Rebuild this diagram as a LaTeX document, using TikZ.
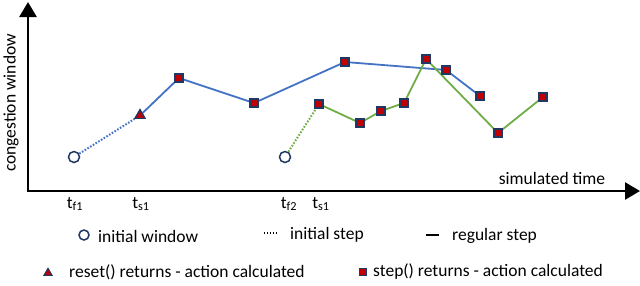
\documentclass[tikz,border=0pt]{standalone}
\usepackage{fontspec}
\setmainfont{Carlito}
\usetikzlibrary{shapes.geometric,arrows.meta}
\definecolor{cblue}{HTML}{4472C4}
\definecolor{cgreen}{HTML}{70AD47}
\definecolor{cred}{HTML}{C00000}
\definecolor{cnavy}{HTML}{1F3864}
\begin{document}
\begin{tikzpicture}[x=1pt,y=-1pt,
  txt/.style={font=\fontsize{17.5}{19}\selectfont, inner sep=0pt},
  axis/.style={line width=2.6pt, -{Triangle[length=15pt,width=17pt]}},
  sq/.style={rectangle, draw=cnavy, fill=cred, line width=1.3pt, minimum size=8pt, inner sep=0pt},
  sqs/.style={rectangle, draw=cnavy, fill=cred, line width=1pt, minimum size=6.5pt, inner sep=0pt},
  tri/.style={regular polygon, regular polygon sides=3, draw=cnavy, fill=cred, line width=1.2pt, minimum size=11.5pt, inner sep=0pt},
  tris/.style={regular polygon, regular polygon sides=3, draw=cnavy, fill=cred, line width=1pt, minimum size=9.5pt, inner sep=0pt},
  circ/.style={circle, draw=cnavy, fill=white, line width=1.5pt, minimum size=11pt, inner sep=0pt},
  regb/.style={cblue, line width=1.8pt},
  regg/.style={cgreen, line width=1.8pt},
  initdot/.style={line width=2pt, dash pattern=on 1.6pt off 1.6pt},
]
\useasboundingbox (0,0) rectangle (640,285);
% axes
\coordinate (o) at (28,191);
\coordinate (ytop) at (28,2);
\coordinate (xend) at (640,191);
\draw[axis] (o) -- (ytop);
\draw[axis] ([xshift=-1.3pt]o) -- (xend);
\node[txt, rotate=90] (ylab) at (11,103) {congestion window};
\node[txt] (xlab) at (552,178) {simulated time};
% ticks labels
\node[txt] (tf1) at (75,204) {t\textsubscript{f1}};
\node[txt] (ts1) at (141,204) {t\textsubscript{s1}};
\node[txt] (tf2) at (289,204) {t\textsubscript{f2}};
\node[txt] (ts1b) at (321,204) {t\textsubscript{s1}};
% blue series nodes
\node[circ] (b0) at (74,157) {};
\node[tri] (b1) at (140,115.5) {};
\node[sq] (b2) at (179,78) {};
\node[sq] (b3) at (254,103) {};
\node[sq] (b4) at (345,62) {};
\node[sq] (b5) at (446,70) {};
\node[sq] (b6) at (480,96) {};
% green series nodes
\node[circ] (g0) at (285,157) {};
\node[sq] (g1) at (319,104) {};
\node[sq] (g2) at (360,123) {};
\node[sq] (g3) at (381,111) {};
\node[sq] (g4) at (404,103) {};
\node[sq] (g5) at (426,59) {};
\node[sq] (g6) at (498,133) {};
\node[sq] (g7) at (543,97) {};
% lines
\draw[cblue, initdot] (b0) -- (b1);
\draw[regb] (b1) -- (b2) -- (b3) -- (b4) -- (b5) -- (b6);
\draw[cgreen, initdot] (g0) -- (g1);
\draw[regg] (g1) -- (g2) -- (g3) -- (g4) -- (g5) -- (g6) -- (g7);
% redraw markers on top
\foreach \n in {b2,b3,b4,b5,b6,g1,g2,g3,g4,g5,g6,g7}{\node[sq] at (\n) {};}
\node[tri] at (b1) {};
% legend
\node[circ, minimum size=10pt] (lc) at (84,235) {};
\node[txt, anchor=west] (lct) at (98,236) {initial window};
\coordinate (ld1) at (264,233);
\coordinate (ld2) at (278,233);
\draw[line width=1.4pt, dash pattern=on 1.4pt off 1.6pt] (ld1) -- (ld2);
\node[txt, anchor=west] (ldt) at (290,235) {initial step};
\coordinate (lr1) at (426,235);
\coordinate (lr2) at (439,235);
\draw[line width=2pt] (lr1) -- (lr2);
\node[txt, anchor=west] (lrt) at (452,236) {regular step};
\node[tris] (lt) at (48,273) {};
\node[txt, anchor=west] (ltt) at (69,272) {reset() returns - action calculated};
\node[sqs] (ls) at (363,272) {};
\node[txt, anchor=west] (lst) at (373,272) {step() returns - action calculated};
\end{tikzpicture}
\end{document}
